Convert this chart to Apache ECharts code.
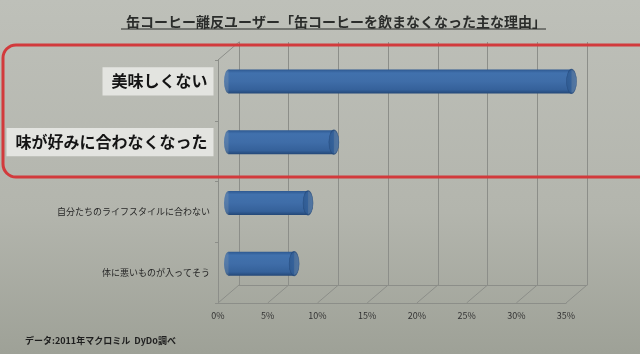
<!DOCTYPE html>
<html>
<head>
<meta charset="utf-8">
<script src="https://cdn.jsdelivr.net/npm/echarts@6/dist/echarts.min.js"></script>
<style>
  html, body { margin: 0; padding: 0; }
  #chart { width: 640px; height: 354px; }
</style>
</head>
<body>
<div id="chart"></div>
<script>
// 缶コーヒーを飲まなくなった主な理由
const categories = ['美味しくない', '味が好みに合わなくなった', '自分たちのライフスタイルに合わない', '体に悪いものが入ってそう'];
const values = [34.5, 10.6, 8.0, 6.6];
const xTicks = [0, 5, 10, 15, 20, 25, 30, 35];

const FONT = '"Noto Sans CJK JP", "Noto Sans", sans-serif';
const GRID_LINE = '#8c8e89';
// 3D風の奥行き
const DX = 21, DY = 18;

const myChart = echarts.init(document.getElementById('chart'));

const barColor = new echarts.graphic.LinearGradient(0, 0, 0, 1, [
  { offset: 0, color: '#2d5890' },
  { offset: 0.15, color: '#4171ad' },
  { offset: 0.5, color: '#3f6da8' },
  { offset: 0.85, color: '#35619a' },
  { offset: 1, color: '#244878' }
]);

let option = {
  backgroundColor: new echarts.graphic.LinearGradient(0, 0, 0, 1, [
    { offset: 0, color: '#bec0b9' },
    { offset: 0.6, color: '#b3b5ad' },
    { offset: 1, color: '#9ea197' }
  ]),
  textStyle: { fontFamily: FONT },
  title: [
    {
      text: '缶コーヒー離反ユーザー「缶コーヒーを飲まなくなった主な理由」',
      left: 121,
      top: 10,
      textStyle: { fontSize: 14, fontWeight: 'bold', color: '#2b2d2b', fontFamily: FONT }
    },
    {
      text: '{b|データ:}{n|2011}{b|年マクロミル}{n|  DyDo}{b|調べ}',
      left: 20,
      top: 331,
      textStyle: {
        fontFamily: FONT,
        rich: {
          b: { fontSize: 9, fontWeight: 'bold', color: '#1e1e1e', fontFamily: FONT },
          n: { fontSize: 9, color: '#1e1e1e', fontFamily: FONT }
        }
      }
    }
  ],
  grid: [
    // 手前
    { left: 218, top: 60, width: 348, height: 243 },
    // 奥の壁
    { left: 218 + DX, top: 60 - DY, width: 348, height: 243 },
    // 棒の位置(中間)
    { left: 218 + DX / 2, top: 60 - DY / 2, width: 348, height: 243 }
  ],
  xAxis: [
    {
      gridIndex: 0, type: 'value', min: 0, max: 35, interval: 5,
      axisLine: { show: true, lineStyle: { color: GRID_LINE } },
      axisTick: { show: false },
      splitLine: { show: false },
      axisLabel: { formatter: '{value}%', fontSize: 9, color: '#333', margin: 8 }
    },
    {
      gridIndex: 1, type: 'value', min: 0, max: 35, interval: 5,
      axisLine: { show: true, lineStyle: { color: GRID_LINE } },
      axisTick: { show: false },
      axisLabel: { show: false },
      splitLine: { show: true, lineStyle: { color: GRID_LINE } }
    },
    {
      gridIndex: 2, type: 'value', min: 0, max: 35, interval: 5, show: false
    }
  ],
  yAxis: [
    {
      gridIndex: 0, type: 'category', data: categories, inverse: true,
      axisLine: { show: true, lineStyle: { color: GRID_LINE } },
      axisTick: { show: true, length: 3, lineStyle: { color: GRID_LINE } },
      axisLabel: {
        fontSize: 9, color: '#262626', margin: 8,
        formatter: (v, i) => (i < 2 ? '' : v)
      }
    },
    {
      gridIndex: 1, type: 'category', data: categories, inverse: true,
      axisLine: { show: true, lineStyle: { color: GRID_LINE } },
      axisTick: { show: false },
      axisLabel: { show: false }
    },
    {
      gridIndex: 2, type: 'category', data: categories, inverse: true,
      axisLine: { show: false },
      axisTick: { show: false },
      axisLabel: {
        margin: 15,
        formatter: (v, i) => (i < 2 ? '{big|' + v + '}' : ''),
        rich: {
          big: {
            fontSize: 16, fontWeight: 'bold', color: '#141414', fontFamily: FONT,
            backgroundColor: '#e3e4e0', padding: [6, 6, 6, 9], lineHeight: 17
          }
        }
      }
    }
  ],
  series: [
    {
      // 床の斜線
      type: 'custom',
      xAxisIndex: 0, yAxisIndex: 0,
      silent: true,
      data: xTicks.map((t) => [t, categories.length - 1]),
      renderItem: (params, api) => {
        const p = api.coord([api.value(0), api.value(1)]);
        const band = api.size([0, 1])[1];
        const y = p[1] + band / 2;
        return {
          type: 'line',
          shape: { x1: p[0], y1: y, x2: p[0] + DX, y2: y - DY },
          style: { stroke: GRID_LINE, lineWidth: 1 }
        };
      }
    },
    {
      // 左壁の上端
      type: 'custom',
      xAxisIndex: 0, yAxisIndex: 0,
      silent: true,
      data: [[0, 0]],
      renderItem: (params, api) => {
        const p = api.coord([api.value(0), api.value(1)]);
        const band = api.size([0, 1])[1];
        const y = p[1] - band / 2;
        return {
          type: 'line',
          shape: { x1: p[0], y1: y, x2: p[0] + DX, y2: y - DY },
          style: { stroke: GRID_LINE, lineWidth: 1 }
        };
      }
    },
    {
      type: 'bar',
      xAxisIndex: 2, yAxisIndex: 2,
      data: values,
      barWidth: 24,
      itemStyle: { color: barColor },
      z: 3
    },
    {
      // 円柱の左端
      type: 'scatter',
      xAxisIndex: 2, yAxisIndex: 2,
      data: values.map((v, i) => [0, i]),
      symbol: 'circle',
      symbolSize: [9, 24],
      itemStyle: { color: barColor },
      z: 2
    },
    {
      // 円柱の右端(断面)
      type: 'scatter',
      xAxisIndex: 2, yAxisIndex: 2,
      data: values.map((v, i) => [v, i]),
      symbol: 'circle',
      symbolSize: [10, 24],
      itemStyle: {
        color: new echarts.graphic.LinearGradient(0, 0, 1, 0, [
          { offset: 0, color: '#2c578d' },
          { offset: 1, color: '#3a67a1' }
        ]),
        borderColor: '#264a7b', borderWidth: 0.8
      },
      z: 4
    }
  ],
  graphic: [
    {
      // タイトル下線
      type: 'line',
      shape: { x1: 121, y1: 29, x2: 546, y2: 29 },
      style: { stroke: '#2b2d2b', lineWidth: 1 }
    },
    {
      // 赤枠
      type: 'rect',
      shape: { x: 3, y: 45, width: 700, height: 132, r: 13 },
      style: { fill: 'none', stroke: '#d23a3c', lineWidth: 3 },
      z: 100
    }
  ]
};

myChart.setOption(option);
</script>
</body>
</html>
